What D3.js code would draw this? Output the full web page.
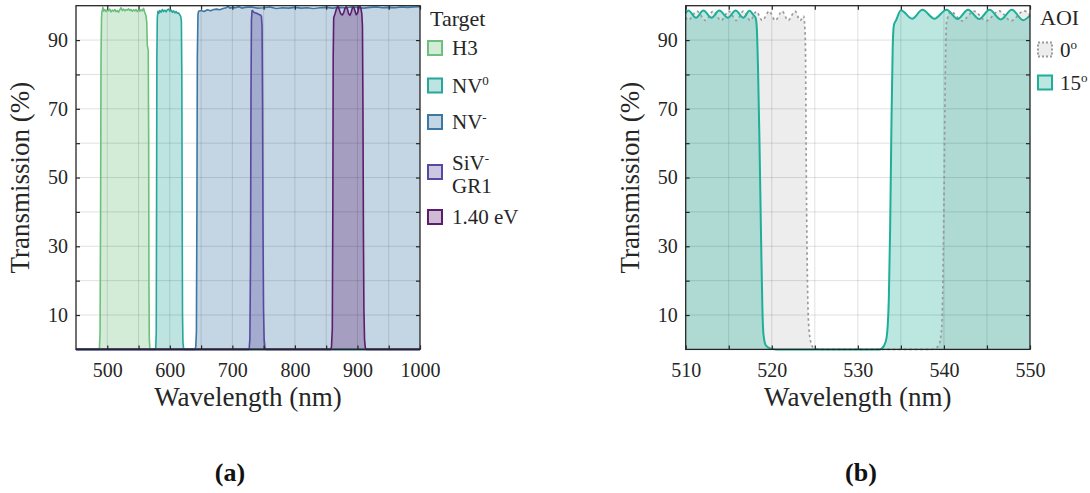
<!DOCTYPE html>
<html>
<head>
<meta charset="utf-8">
<script src="https://cdn.jsdelivr.net/npm/d3@7"></script>
<style>
  html, body { margin: 0; padding: 0; background: #fff; }
  svg { display: block; }
  svg text { font-family: "Liberation Serif", "DejaVu Serif", serif !important; }
</style>
</head>
<body>
<svg id="fig" width="1090" height="493"></svg>
<script>
// ---------- Panel (a): transmission of the filter for each colour-centre target ----------
const h3Wl = [450,486,487.5,488.5,489.3,490,490.8,491.5,493,494.5,496,498,500,502,504,506,508,510,512,514,516,518,520,522,524,526,528,530,532,534,536,538,540,542,544,546,548,550,552,554,556,558,560,562,563.2,563.6,564,565.5,566.2,566.6,567.2,568,569,1000];
const h3T  = [0,0,0.5,5,40,85,96.5,98.2,99.5,98.4,98.9,98.3,98.8,98.5,99.0,98.2,98.7,98.4,98.9,98.3,98.6,98.1,98.8,99.4,98.6,99.0,98.5,98.9,98.7,99.1,98.6,98.9,98.4,98.8,98.5,98.9,98.3,98.7,98.4,98.8,98.5,99.2,98.0,97.0,95,91,88.5,87,60,20,3,0.5,0,0];

const nv0Wl = [450,576,577.5,578.3,578.8,579.3,580,581,582.5,584,586,588,590,592,594,596,598,600,602,604,606,608,610,612,614,616,617.5,618.5,619.2,619.8,620.3,621,622,623.5,1000];
const nv0T  = [0,0,0.5,5,40,85,96.5,98.4,97.8,98.6,98.1,98.9,98.3,98.7,98.2,98.8,99.0,98.4,98.7,98.1,98.5,97.9,98.3,97.8,97.9,97.3,96.8,95.5,80,40,10,2,0.3,0,0];

const nvmWl = [450,640,641.5,642.5,643.3,644,645,646,650,655,660,665,670,675,680,685,690,693,696,700,705,710,715,720,730,740,750,760,770,780,790,800,810,820,830,840,850,860,870,880,890,900,910,920,930,940,950,960,970,980,990,1000];
const nvmT  = [0,0,0.8,5,40,85,97.5,98.4,98.6,98.3,98.8,98.5,98.9,99.0,98.8,99.2,99.4,99.8,99.3,99.5,99.4,99.7,99.3,99.5,99.6,99.3,99.4,99.6,99.2,99.4,99.3,99.5,99.3,99.4,99.2,99.4,99.5,99.3,99.5,99.4,99.6,99.5,99.3,99.5,99.6,99.4,99.5,99.4,99.6,99.5,99.6,99.7];

const sivWl = [450,726,727,728,729,729.8,730.5,731.5,733,735,737,739,741,743,745,746.5,747.5,748.3,749,749.8,750.8,752,753.5,1000];
const sivT  = [0,0,0.5,3,25,75,96,98.6,98.4,98.0,97.9,97.8,97.6,97.4,97.3,96.8,94,70,35,12,3,0.5,0,0];

const evWl = [450,857,858.5,859.8,860.6,861.2,862,864,866,868,870,872,874,876,878,880,882,884,886,888,890,892,894,896,898,900,902,904,905.5,907,908,908.8,909.5,910.3,911.3,912.5,914,1000];
const evT  = [0,0,0.8,6,40,85,96.5,97.6,98.8,99.7,99.5,98.2,97.5,97.3,98.0,99.2,99.7,99.0,97.6,97.2,98.1,99.4,99.6,98.5,97.4,97.8,99.3,99.8,99.2,97.6,94,70,35,12,3,0.5,0,0];

const targetLabels = [["H3"], ["NV", "0"], ["NV", "-"], ["SiV", "-", "GR1"], ["1.40 eV"]];
const wlTicksA = [500,550,600,650,700,750,800,850,900,950,1000];
const transTicks = [10,20,30,40,50,60,70,80,90];

// ---------- Panel (b): one filter at two angles of incidence ----------
const aoi0Wl = [510,510.3,511.3,512.3,513.2,514.1,515.0,515.9,516.7,517.5,518.2,518.9,519.7,520.4,521.2,521.9,522.7,523.3,523.7,523.9,524.0,524.1,524.25,524.5,524.8,525.3,526,538.5,539.0,539.4,539.7,539.85,540.0,540.15,540.3,540.8,542.1,543.5,544.9,546.4,547.8,549.3,550];
const aoi0T  = [96.6,95.8,98.4,95.7,98.4,95.7,98.4,95.7,98.4,95.7,98.3,95.7,98.4,95.7,98.4,95.7,98.4,95.7,97.0,90,55,28,9,2.5,0.6,0.1,0,0,0.3,1.2,5,15,42,78,95,98.3,95.6,98.4,95.6,98.5,95.6,98.5,97.4];

const aoi15Wl = [510,510.3,511.2,512.05,513.0,513.9,514.9,515.8,516.7,517.4,517.9,518.1,518.25,518.4,518.56,518.76,518.9,519.03,519.3,519.8,520.5,532.5,532.8,533.2,533.4,533.6,533.75,533.9,534.05,534.2,534.45,535.0,536.3,537.5,538.9,540.3,541.6,542.8,544.1,545.3,546.6,547.9,549.2,550];
const aoi15T  = [97.8,98.6,96.5,98.6,96.5,98.6,96.5,98.6,96.5,98.5,97.2,96.6,94,82,62,32,13,4.5,1.2,0.3,0,0,0.3,2,4.7,15,35,65,88,94.5,95.8,98.7,96.2,98.8,96.2,98.8,96.1,98.8,96.1,98.8,96.0,98.8,95.8,97.2];

const aoiLabels = [["0", "o"], ["15", "o"]];
const wlTicksB = [510,515,520,525,530,535,540,545,550];

// ---------- drawing ----------
const ink = "#262626";
const serif = '"Liberation Serif", "DejaVu Serif", serif';
const svg = d3.select("#fig");

const zip = (wl, t) => wl.map((w, i) => ({ wl: w, t: t[i] }));

function makePanel(x0, x1, xDomain) {
  const top = 5.7, bottom = 349.4;
  const x = d3.scaleLinear().domain(xDomain).range([x0, x1]);
  const y = d3.scaleLinear().domain([0, 100]).range([bottom, top]);
  const g = svg.append("g");
  return { g, x, y, x0, x1, top, bottom };
}

function drawSeries(p, data, color, opts) {
  const curve = opts.curve || d3.curveLinear;
  const area = d3.area().x(d => p.x(d.wl)).y0(p.y(0)).y1(d => p.y(d.t)).curve(curve);
  const line = d3.line().x(d => p.x(d.wl)).y(d => p.y(d.t)).curve(curve);
  p.fills.append("path").datum(data).attr("d", area)
    .attr("fill", opts.fill || color).attr("fill-opacity", opts.fillOpacity ?? 0.3).attr("stroke", "none");
  p.lines.append("path").datum(data).attr("d", line)
    .attr("fill", "none").attr("stroke", color).attr("stroke-width", opts.width || 1.6)
    .attr("stroke-dasharray", opts.dash || null).attr("stroke-linejoin", "round");
}

function drawFrame(p, xTicks, xLabelStep) {
  const g = p.g;
  // grid over the translucent fills
  const grid = g.append("g").attr("stroke", "#000").attr("stroke-opacity", 0.12).attr("stroke-width", 1);
  xTicks.filter(v => p.x(v) > p.x0 + 1 && p.x(v) < p.x1 - 1).forEach(v => {
    grid.append("line").attr("x1", p.x(v)).attr("x2", p.x(v)).attr("y1", p.top).attr("y2", p.bottom);
  });
  transTicks.forEach(v => {
    grid.append("line").attr("x1", p.x0).attr("x2", p.x1).attr("y1", p.y(v)).attr("y2", p.y(v));
  });
  g.node().appendChild(p.lines.node());

  const style = s => {
    s.select(".domain").remove();
    s.attr("font-family", serif).attr("font-size", 20);
    s.selectAll("line").attr("stroke", ink).attr("stroke-width", 1.2);
    s.selectAll("text").attr("fill", ink);
  };
  g.append("g").attr("transform", `translate(0,${p.bottom})`)
    .call(d3.axisBottom(p.x).tickValues(xTicks).tickSize(-4).tickPadding(13)
      .tickFormat(d => d % xLabelStep === 0 ? d : "")).call(style);
  g.append("g").attr("transform", `translate(0,${p.top})`)
    .call(d3.axisTop(p.x).tickValues(xTicks).tickSize(-4).tickFormat("")).call(style);
  g.append("g").attr("transform", `translate(${p.x0},0)`)
    .call(d3.axisLeft(p.y).tickValues(transTicks).tickSize(-4).tickPadding(8)
      .tickFormat(d => d % 20 === 10 ? d : "")).call(style);
  g.append("g").attr("transform", `translate(${p.x1},0)`)
    .call(d3.axisRight(p.y).tickValues(transTicks).tickSize(-4).tickFormat("")).call(style);

  g.append("rect").attr("x", p.x0).attr("y", p.top).attr("width", p.x1 - p.x0).attr("height", p.bottom - p.top)
    .attr("fill", "none").attr("stroke", ink).attr("stroke-width", 1.3);

  g.append("text").attr("x", (p.x0 + p.x1) / 2).attr("y", 406).attr("text-anchor", "middle")
    .attr("font-size", 27).attr("fill", ink).text("Wavelength (nm)");
  g.append("text").attr("transform", `translate(${p.x0 - 47},${(p.top + p.bottom) / 2}) rotate(-90)`)
    .attr("text-anchor", "middle").attr("font-size", 27).attr("fill", ink).text("Transmission (%)");
}

function richText(sel, x, y, parts, size) {
  const t = sel.append("text").attr("x", x).attr("y", y).attr("font-size", size).attr("fill", ink);
  t.append("tspan").text(parts[0]);
  if (parts.length > 1) t.append("tspan").attr("dy", -8).attr("font-size", size * 0.62).text(parts[1]);
  return t;
}

function legendBox(sel, x, cy, color, fill, fillOpacity, dash) {
  sel.append("rect").attr("x", x).attr("y", cy - 7).attr("width", 14).attr("height", 14)
    .attr("fill", "#fff");
  sel.append("rect").attr("x", x).attr("y", cy - 7).attr("width", 14).attr("height", 14)
    .attr("fill", fill).attr("fill-opacity", fillOpacity)
    .attr("stroke", color).attr("stroke-width", 2).attr("stroke-dasharray", dash || null);
}

// ----- panel (a)
const pa = makePanel(76, 420, [450, 1000]);
pa.fills = pa.g.append("g");
pa.lines = pa.g.append("g");
const targetColors = ["#6cc07a", "#27a69b", "#3b78a5", "#5649a0", "#5d1d6f"];
const targetData = [zip(h3Wl, h3T), zip(nv0Wl, nv0T), zip(nvmWl, nvmT), zip(sivWl, sivT), zip(evWl, evT)];
targetData.forEach((d, i) => drawSeries(pa, d, targetColors[i], { width: 1.6 }));
drawFrame(pa, wlTicksA, 100);

const legA = svg.append("g");
legA.append("text").attr("x", 430).attr("y", 26).attr("font-size", 22).attr("fill", ink).text("Target");
const legAY = [48, 85.5, 122, 172, 217];
targetLabels.forEach((lab, i) => {
  legendBox(legA, 428, legAY[i], targetColors[i], targetColors[i], 0.3);
  if (lab.length === 3) {
    richText(legA, 452, legAY[i] - 2, [lab[0], lab[1]], 21);
    legA.append("text").attr("x", 452).attr("y", legAY[i] + 21).attr("font-size", 21).attr("fill", ink).text(lab[2]);
  } else {
    richText(legA, 452, legAY[i] + 7, lab, 21);
  }
});

// ----- panel (b)
const pb = makePanel(685.7, 1030, [510, 550]);
pb.fills = pb.g.append("g");
pb.lines = pb.g.append("g");
const aoiColors = ["#9a9a9a", "#1fae98"];
drawSeries(pb, zip(aoi0Wl, aoi0T), aoiColors[0],
  { curve: d3.curveMonotoneX, fill: "#c4c7c4", fillOpacity: 0.32, dash: "2.5,3", width: 1.7 });
drawSeries(pb, zip(aoi15Wl, aoi15T), aoiColors[1],
  { curve: d3.curveMonotoneX, fillOpacity: 0.3, width: 2 });
drawFrame(pb, wlTicksB, 10);

const legB = svg.append("g");
legB.append("text").attr("x", 1040).attr("y", 25).attr("font-size", 22).attr("fill", ink).text("AOI");
legendBox(legB, 1038, 49.5, aoiColors[0], "#c4c7c4", 0.32, "2,2");
richText(legB, 1060, 56.5, aoiLabels[0], 21);
legendBox(legB, 1038, 82.5, aoiColors[1], aoiColors[1], 0.3);
richText(legB, 1060, 89.5, aoiLabels[1], 21);

// ----- panel tags
svg.append("text").attr("x", 230).attr("y", 481).attr("text-anchor", "middle")
  .attr("font-size", 26).attr("font-weight", "bold").attr("fill", "#111").text("(a)");
svg.append("text").attr("x", 861).attr("y", 481).attr("text-anchor", "middle")
  .attr("font-size", 26).attr("font-weight", "bold").attr("fill", "#111").text("(b)");
</script>
</body>
</html>
